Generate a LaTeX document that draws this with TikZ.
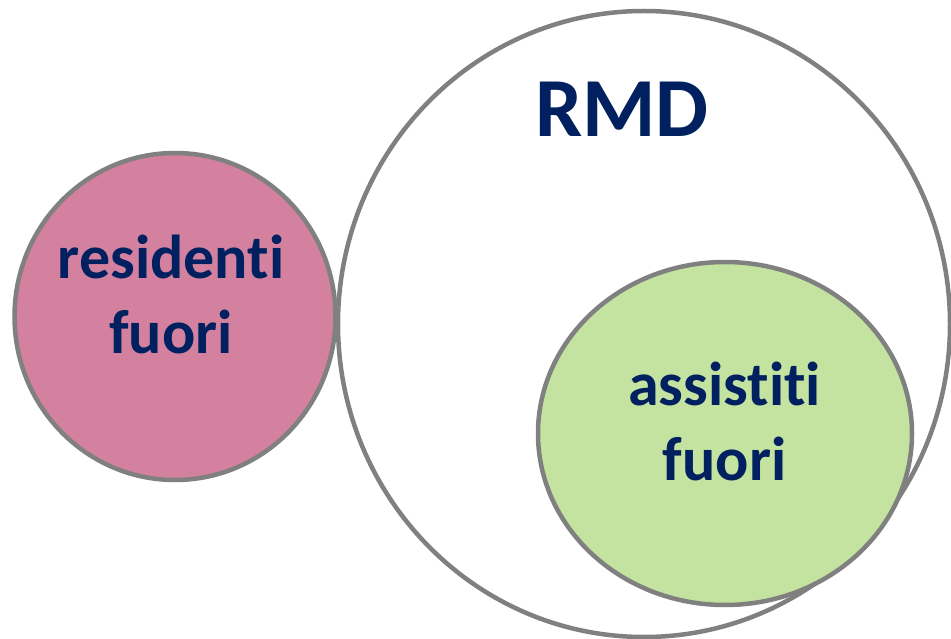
\documentclass[tikz,border=0pt]{standalone}
\usepackage{fontspec}
\setmainfont{Carlito}[Ligatures={NoCommon}]
\definecolor{navy}{HTML}{002060}
\definecolor{ringgray}{HTML}{808080}
\definecolor{pinkfill}{HTML}{D4819F}
\definecolor{greenfill}{HTML}{C4E3A0}
\tikzset{
  ring/.style={draw=ringgray, line width=4.5pt},
  lbl/.style={text=navy, font=\bfseries\fontsize{62}{75}\selectfont, align=center, inner sep=0pt},
}
\begin{document}
\begin{tikzpicture}[x=1pt,y=-1pt]
\useasboundingbox (0,0) rectangle (951,639);
\fill[white] (0,0) rectangle (951,639);
\draw[ring, fill=white] (644,324) ellipse [x radius=306, y radius=313];
\draw[ring, fill=pinkfill] (175,316.5) ellipse [x radius=160.5, y radius=163.5];
\draw[ring, fill=greenfill] (725,433.5) ellipse [x radius=187, y radius=171.5];
\node[lbl, font=\bfseries\fontsize{84}{100}\selectfont, anchor=base] (rmd) at (622,137) {RMD};
\node[lbl, anchor=base] (res) at (171,353) {residenti\\fuori};
\node[lbl, anchor=base] (ass) at (724.5,480) {assistiti\\fuori};
\end{tikzpicture}
\end{document}
